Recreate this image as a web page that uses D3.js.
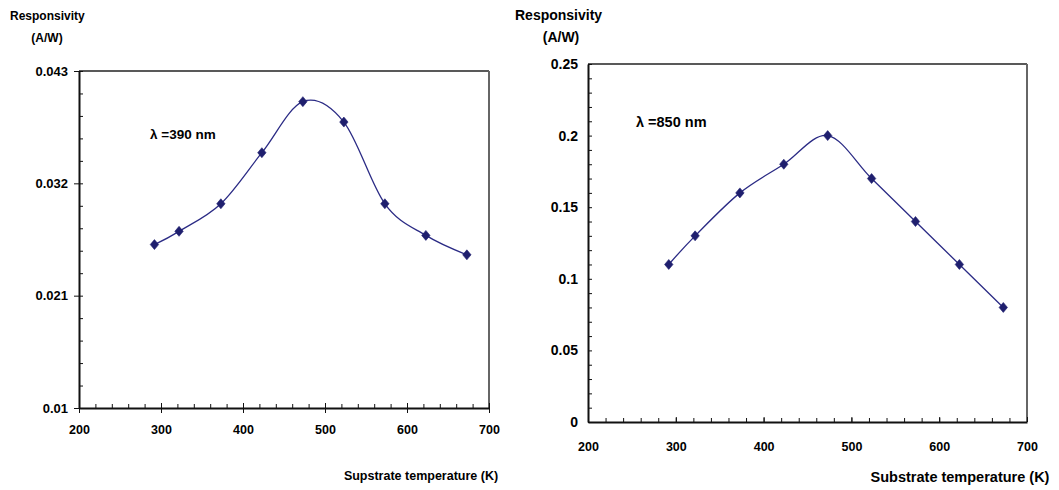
<!DOCTYPE html>
<html>
<head>
<meta charset="utf-8">
<script src="https://cdn.jsdelivr.net/npm/d3@7"></script>
<style>
  body { margin: 0; background: #fff; }
  svg text { font-family: "Liberation Sans", Arial, sans-serif; font-weight: bold; fill: #000; }
  .axis path, .axis line { stroke: #111; }
</style>
</head>
<body>
<div id="graph"></div>
<script>
// substrate temperatures (K) - same for both measurements
var temps = [292, 322, 373, 423, 473, 523, 573, 623, 673];

// responsivity at 390 nm (A/W)
var resp390 = [0.0260, 0.0273, 0.0300, 0.0350, 0.0400, 0.0380, 0.0300, 0.0269, 0.0250];
// responsivity at 850 nm (A/W)
var resp850 = [0.11, 0.13, 0.16, 0.18, 0.20, 0.17, 0.14, 0.11, 0.08];

// tick labels
var xTicks = [200, 300, 400, 500, 600, 700];
var yTicks390 = [0.01, 0.021, 0.032, 0.043];
var yTicks850 = [0, 0.05, 0.1, 0.15, 0.2, 0.25];

var svg = d3.select("#graph")
  .append("svg")
    .attr("width", 1059)
    .attr("height", 490);

var lineColor = "#2b2b85",
    markColor = "#1f1f6e";

function drawChart(opt) {
  var g = svg.append("g")
    .attr("transform", "translate(" + opt.left + "," + opt.top + ")");

  var x = d3.scaleLinear().domain([200, 700]).range([0, opt.width]);
  var y = d3.scaleLinear().domain(opt.yDomain).range([opt.height, 0]);

  // frame (top and right)
  g.append("line")
    .attr("x1", 0).attr("x2", opt.width).attr("y1", 0).attr("y2", 0)
    .attr("stroke", "#222").attr("stroke-width", 1.5);
  g.append("line")
    .attr("x1", opt.width).attr("x2", opt.width).attr("y1", 0).attr("y2", opt.height)
    .attr("stroke", "#666").attr("stroke-width", 2);

  // minor ticks x (inside)
  var xMinor = d3.range(200, 701, 20);
  g.append("g")
    .attr("class", "axis")
    .attr("transform", "translate(0," + opt.height + ")")
    .call(d3.axisBottom(x).tickValues(xMinor).tickSize(-opt.minor).tickFormat(""))
    .call(function(a) { a.select(".domain").remove(); });

  // major ticks x
  g.append("g")
    .attr("class", "axis")
    .attr("transform", "translate(0," + opt.height + ")")
    .call(d3.axisBottom(x).tickValues(xTicks).tickSize(-opt.major).tickFormat(""))
    .call(function(a) { a.select(".domain").remove(); });

  var xAxis = g.append("g")
    .attr("class", "axis")
    .attr("transform", "translate(0," + opt.height + ")")
    .call(d3.axisBottom(x).tickValues(xTicks).tickSize(opt.xOut).tickSizeOuter(0).tickPadding(opt.xPad));
  xAxis.select(".domain").attr("stroke-width", 2);
  xAxis.selectAll("text").style("font-size", opt.xFont + "px").attr("fill", "#000");

  // minor ticks y (inside)
  var yMinor = d3.range(0, opt.yMinorCount + 1).map(function(i) {
    return opt.yDomain[0] + i * opt.yMinorStep;
  });
  g.append("g")
    .attr("class", "axis")
    .call(d3.axisLeft(y).tickValues(yMinor).tickSize(-opt.minor).tickFormat(""))
    .call(function(a) { a.select(".domain").remove(); });

  var yAxis = g.append("g")
    .attr("class", "axis")
    .call(d3.axisLeft(y).tickValues(opt.yTicks).tickSize(opt.yOut).tickSizeOuter(0)
      .tickPadding(opt.yPad).tickFormat(function(d) { return d3.format("")(+d.toFixed(3)); }));
  yAxis.select(".domain").attr("stroke-width", 2);
  yAxis.selectAll("text").style("font-size", opt.yFont + "px").attr("fill", "#000");

  var data = temps.map(function(t, i) { return {t: t, v: opt.values[i]}; });

  // smoothed line
  g.append("path")
    .datum(data)
    .attr("fill", "none")
    .attr("stroke", lineColor)
    .attr("stroke-width", 1.3)
    .attr("d", d3.line()
      .curve(d3.curveCardinal.tension(0))
      .x(function(d) { return x(d.t); })
      .y(function(d) { return y(d.v); }));

  // diamond markers
  g.selectAll(".pt")
    .data(data)
    .enter().append("path")
      .attr("class", "pt")
      .attr("transform", function(d) { return "translate(" + x(d.t) + "," + y(d.v) + ")"; })
      .attr("d", "M0,-5L4.2,0L0,5L-4.2,0Z")
      .attr("fill", markColor)
      .attr("stroke", markColor)
      .attr("stroke-width", 0.6)
      .attr("stroke-linejoin", "round");

  // titles
  svg.append("text")
    .attr("x", opt.ytX).attr("y", 20)
    .style("font-size", opt.ytFont + "px")
    .text("Responsivity");
  svg.append("text")
    .attr("x", opt.unitX).attr("y", 42)
    .attr("text-anchor", "middle")
    .style("font-size", opt.ytFont + "px")
    .text("(A/W)");
  svg.append("text")
    .attr("x", opt.xtX).attr("y", opt.xtY)
    .attr("text-anchor", "middle")
    .style("font-size", opt.xtFont + "px")
    .text(opt.xTitle);
  svg.append("text")
    .attr("x", opt.lamX).attr("y", opt.lamY)
    .style("font-size", opt.lamFont + "px")
    .text(opt.lamText);
}

drawChart({
  left: 79, top: 71, width: 410, height: 337,
  yDomain: [0.01, 0.043], yTicks: yTicks390,
  yMinorStep: 0.0022, yMinorCount: 15,
  values: resp390,
  major: 5, minor: 4, xOut: 5, yOut: 5, xPad: 12, yPad: 6,
  xFont: 12.5, yFont: 13,
  ytX: 10, unitX: 47, ytFont: 12,
  xtX: 421, xtY: 480, xtFont: 12.5, xTitle: "Supstrate temperature (K)",
  lamX: 150, lamY: 139, lamFont: 13.5, lamText: "\u03bb =390 nm"
});

drawChart({
  left: 588, top: 64, width: 439, height: 358,
  yDomain: [0, 0.25], yTicks: yTicks850,
  yMinorStep: 0.01, yMinorCount: 25,
  values: resp850,
  major: 5, minor: 4, xOut: 0, yOut: 0, xPad: 20, yPad: 10,
  xFont: 12.5, yFont: 14,
  ytX: 515, unitX: 561, ytFont: 14,
  xtX: 960, xtY: 482, xtFont: 14.5, xTitle: "Substrate temperature (K)",
  lamX: 636, lamY: 127, lamFont: 14.5, lamText: "\u03bb =850 nm"
});
</script>
</body>
</html>
